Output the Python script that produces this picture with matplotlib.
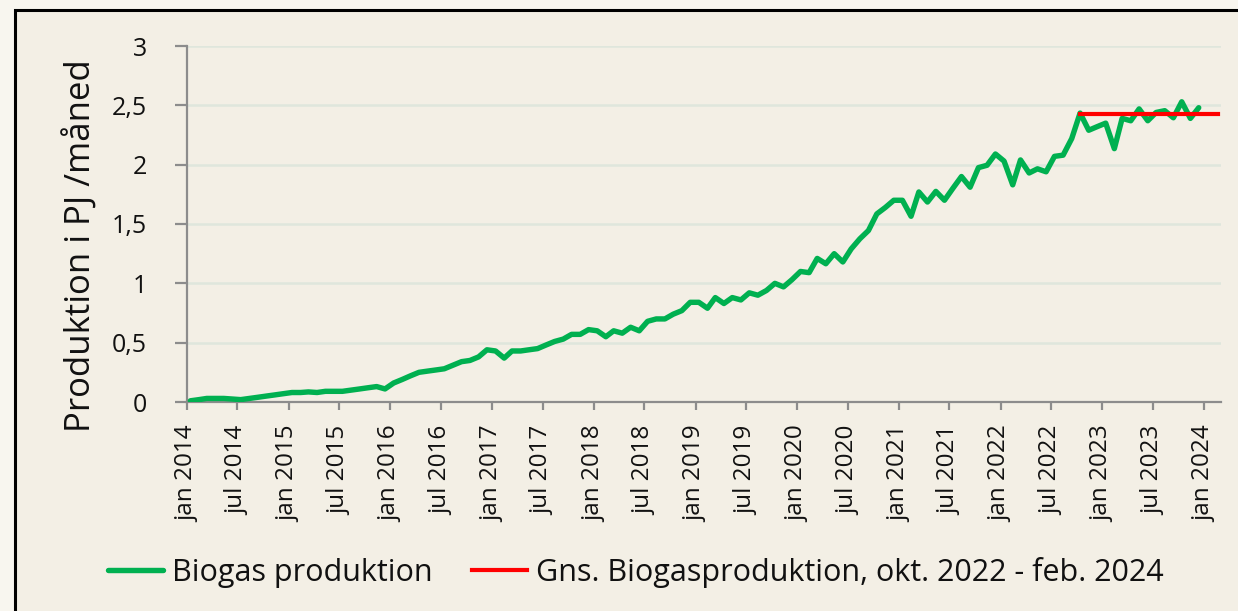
import matplotlib.pyplot as plt
import matplotlib.transforms as mtransforms
from matplotlib.patches import Rectangle
import pandas as pd

plt.rcParams['font.family'] = ['Open Sans', 'DejaVu Sans']

# monthly biogas production, PJ per month, jan 2014 - dec 2023
months = pd.date_range('2014-01-01', periods=120, freq='MS') + pd.Timedelta(days=12)
biogas = [
    0.01, 0.02, 0.03, 0.03, 0.03, 0.025, 0.02, 0.03, 0.04, 0.05, 0.06, 0.07,
    0.08, 0.08, 0.085, 0.08, 0.09, 0.09, 0.09, 0.10, 0.11, 0.12, 0.13, 0.11,
    0.16, 0.19, 0.22, 0.25, 0.26, 0.27, 0.28, 0.31, 0.34, 0.35, 0.38, 0.44,
    0.43, 0.37, 0.43, 0.43, 0.44, 0.45, 0.48, 0.51, 0.53, 0.57, 0.57, 0.61,
    0.60, 0.55, 0.60, 0.58, 0.63, 0.60, 0.68, 0.70, 0.70, 0.74, 0.77, 0.84,
    0.84, 0.79, 0.88, 0.83, 0.88, 0.86, 0.92, 0.90, 0.94, 1.00, 0.97, 1.03,
    1.10, 1.09, 1.21, 1.165, 1.25, 1.18, 1.29, 1.375, 1.445, 1.585, 1.64, 1.70,
    1.70, 1.565, 1.77, 1.685, 1.775, 1.70, 1.80, 1.90, 1.81, 1.975, 1.995, 2.09,
    2.03, 1.83, 2.04, 1.93, 1.965, 1.94, 2.07, 2.08, 2.22, 2.435, 2.29, 2.32,
    2.35, 2.135, 2.39, 2.37, 2.47, 2.37, 2.44, 2.455, 2.395, 2.53, 2.39, 2.48,
]

# average okt. 2022 - feb. 2024
avg_dates = [pd.Timestamp('2022-10-13'), pd.Timestamp('2024-02-20')]
avg_value = 2.43

tick_dates = pd.date_range('2014-01-01', '2024-01-01', freq='6MS')
tick_labels = ['jan 2014', 'jul 2014', 'jan 2015', 'jul 2015', 'jan 2016', 'jul 2016',
               'jan 2017', 'jul 2017', 'jan 2018', 'jul 2018', 'jan 2019', 'jul 2019',
               'jan 2020', 'jul 2020', 'jan 2021', 'jul 2021', 'jan 2022', 'jul 2022',
               'jan 2023', 'jul 2023', 'jan 2024']
y_ticks = [0, 0.5, 1, 1.5, 2, 2.5, 3]
y_labels = ['0', '0,5', '1', '1,5', '2', '2,5', '3']

W, H = 1238, 611
fig = plt.figure(figsize=(W / 100, H / 100), dpi=100)
fig.patch.set_facecolor('#f8f6ef')
frame = Rectangle((15 / W, -0.1), 1.2, 1.1 - 10 / H, transform=fig.transFigure,
                  facecolor='#f3efe5', edgecolor='black', linewidth=2.2, zorder=0)
fig.add_artist(frame)

ax = fig.add_axes([187 / W, 1 - 402 / H, (1221 - 187) / W, (402 - 46) / H])
ax.set_facecolor('none')

ax.plot(months, biogas, color='#00b050', linewidth=3.9, solid_joinstyle='round',
        solid_capstyle='round', label='Biogas produktion', zorder=3)
ax.plot(avg_dates, [avg_value, avg_value], color='#ff0000', linewidth=3.0,
        label='Gns. Biogasproduktion, okt. 2022 - feb. 2024', zorder=4)

ax.set_ylim(0, 3)
ax.set_xlim(pd.Timestamp('2014-01-01'), pd.Timestamp('2024-03-02'))
ax.set_yticks(y_ticks)
ax.set_yticklabels(y_labels)
ax.set_xticks(tick_dates)
ax.set_xticklabels(tick_labels, rotation=90)

shift = mtransforms.ScaledTranslation(5 / 100, 0, fig.dpi_scale_trans)
for lbl in ax.get_xticklabels():
    lbl.set_transform(lbl.get_transform() + shift)

ax.grid(axis='y', color='#dfe6dc', linewidth=1.8, zorder=1)
ax.set_axisbelow(True)
for s in ['top', 'right']:
    ax.spines[s].set_visible(False)
for s in ['left', 'bottom']:
    ax.spines[s].set_color('#8c8c8c')
    ax.spines[s].set_linewidth(1.6)

ax.tick_params(axis='y', length=9, width=1.6, color='#8c8c8c', pad=20, labelsize=18,
               labelcolor='#111111')
ax.tick_params(axis='x', length=6, width=1.6, color='#8c8c8c', pad=11, labelsize=17.5,
               labelcolor='#111111')

ax.set_ylabel('Produktion i PJ /måned', fontsize=25, color='#111111')
ax.yaxis.set_label_coords(-0.085, 0.438)

fig.legend(loc='center', bbox_to_anchor=(636 / W, 1 - 572 / H), ncol=2, frameon=False,
           fontsize=22, handlelength=1.8, handletextpad=0.3, columnspacing=1.3,
           labelcolor='#111111')

fig.savefig('out.png', dpi=100, facecolor=fig.get_facecolor())
